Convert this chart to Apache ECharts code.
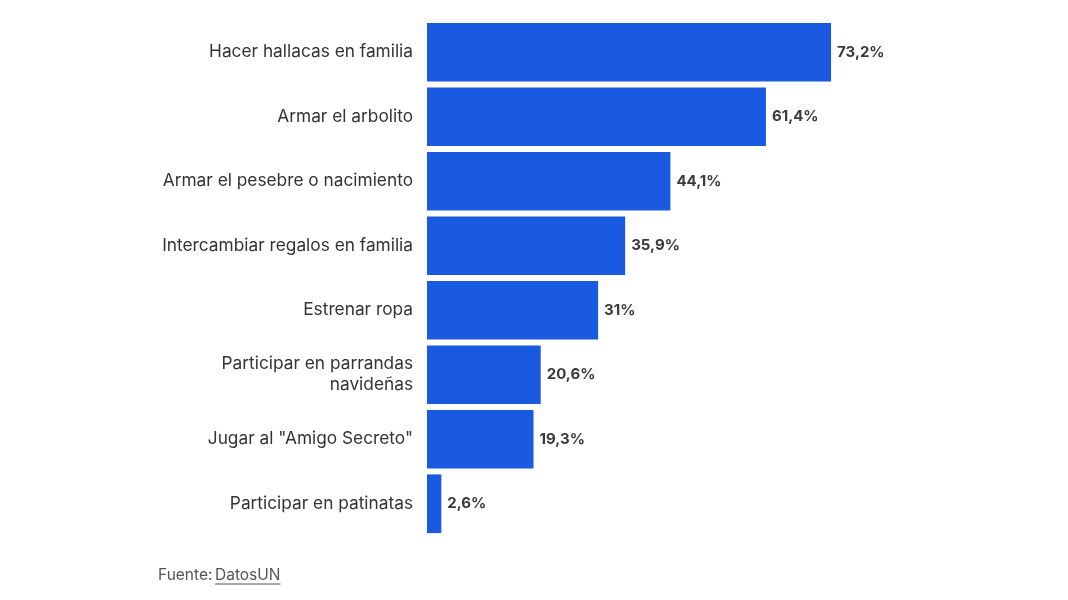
<!DOCTYPE html>
<html><head><meta charset="utf-8">
<script src="https://cdn.jsdelivr.net/npm/echarts@6/dist/echarts.min.js"></script>
<style>html,body{margin:0;padding:0;background:#fff}#c{width:1068px;height:600px}</style>
</head><body><div id="c"></div>
<script>
const categories = ["Hacer hallacas en familia","Armar el arbolito","Armar el pesebre o nacimiento","Intercambiar regalos en familia","Estrenar ropa","Participar en parrandas\nnavideñas","Jugar al \"Amigo Secreto\"","Participar en patinatas"];
const values = [73.2, 61.4, 44.1, 35.9, 31, 20.6, 19.3, 2.6];
const sourceLabel = "Fuente:";
const sourceName = "DatosUN";

const footFont = '15.5px Inter';
const ctx = document.createElement('canvas').getContext('2d');
ctx.font = footFont;
const nameW = ctx.measureText(sourceName).width;

const chart = echarts.init(document.getElementById('c'));
chart.setOption({
  animation: false,
  grid: { left: 427, width: 552, top: 20, bottom: 64 },
  xAxis: { type: 'value', min: 0, max: 100, show: false },
  yAxis: {
    type: 'category', data: categories, inverse: true,
    axisLine: { show: false }, axisTick: { show: false },
    axisLabel: { margin: 14, color: '#333', fontSize: 17.3, fontFamily: 'Inter', lineHeight: 21, align: 'right' }
  },
  series: [{
    type: 'bar', data: values, barCategoryGap: '9%',
    itemStyle: { color: '#1a5ae0' },
    label: {
      show: true, position: 'right', distance: 6, color: '#3a3a3a', fontSize: 15, fontWeight: 'bold', fontFamily: 'Inter',
      formatter: p => String(p.value).replace('.', ',') + '%'
    }
  }],
  graphic: [
    { type: 'text', x: 158, y: 567, style: { text: sourceLabel, fill: '#555', font: footFont } },
    { type: 'text', x: 215, y: 567, style: { text: sourceName, fill: '#555', font: footFont } },
    { type: 'line', shape: { x1: 215, y1: 584, x2: 215 + nameW, y2: 584 }, style: { stroke: '#555', lineWidth: 1 } }
  ]
});
</script></body></html>
